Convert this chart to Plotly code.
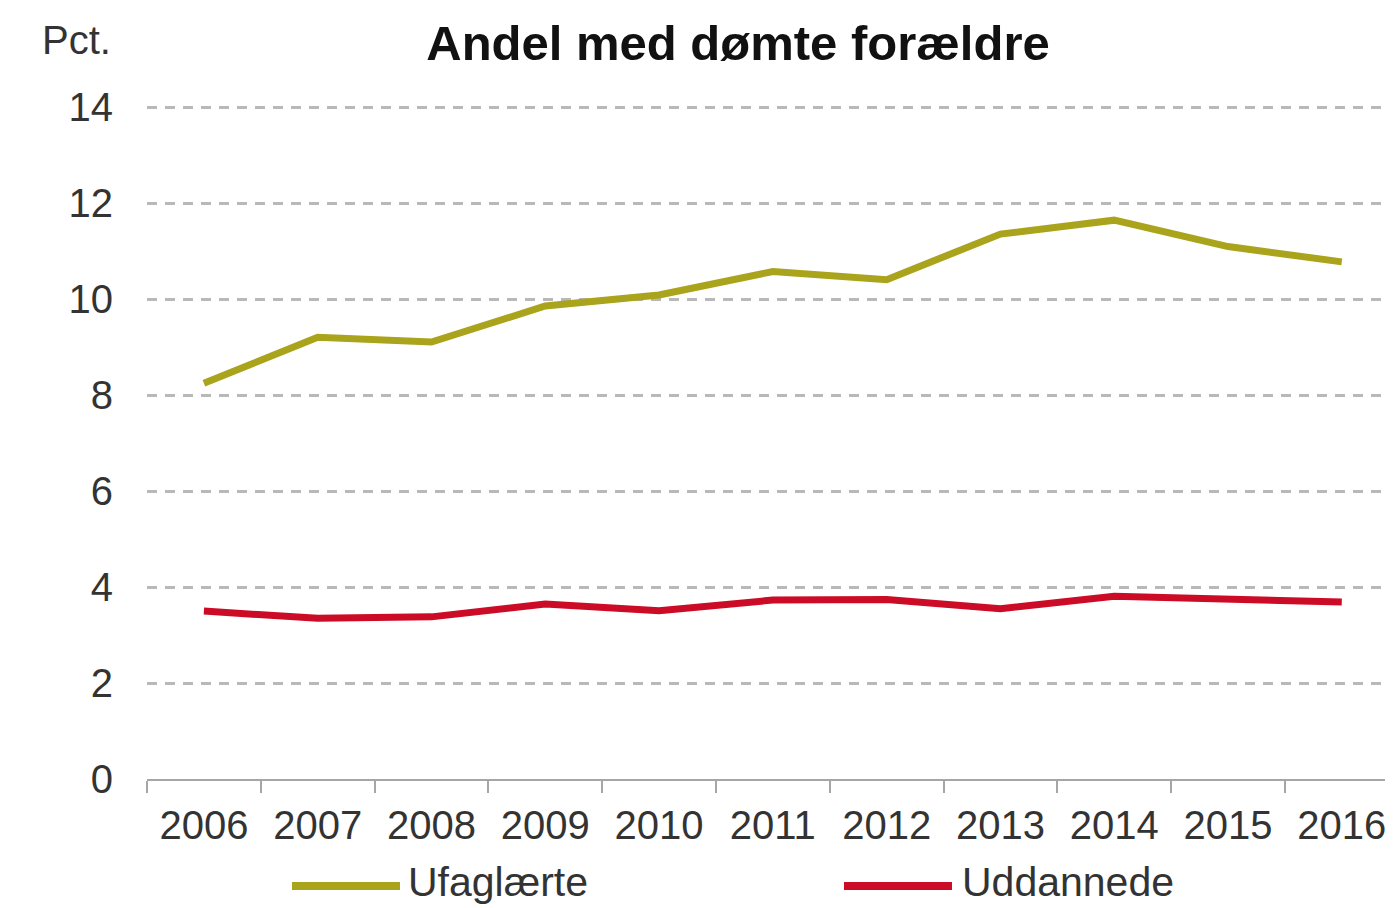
import plotly.graph_objects as go

years = ["2006", "2007", "2008", "2009", "2010", "2011", "2012", "2013", "2014", "2015", "2016"]
ufaglaerte = [8.25, 9.21, 9.11, 9.86, 10.09, 10.58, 10.41, 11.36, 11.65, 11.10, 10.78]
uddannede = [3.50, 3.35, 3.38, 3.65, 3.51, 3.73, 3.74, 3.55, 3.81, 3.74, 3.69]
y_ticks = [0, 2, 4, 6, 8, 10, 12, 14]

OLIVE = "#AAA31C"
RED = "#CC0C26"
FONT = "Liberation Sans, Arial, sans-serif"

OFF = 8  # browser body margin
PAGE_W, PAGE_H = 1393, 908
W, H = PAGE_W - OFF, PAGE_H - OFF

# target positions in page pixels
X_LEFT = 147          # plot left edge
Y_ZERO = 779          # y = 0
Y_TOP_VAL = 107       # y = 14
YMAX = 14.03
px_per_unit = (Y_ZERO - Y_TOP_VAL) / 14.0
plot_top = Y_ZERO - YMAX * px_per_unit

L = X_LEFT - OFF
T = plot_top - OFF
B = H - (Y_ZERO - OFF)
R = 0

fig = go.Figure()
fig.add_trace(go.Scatter(x=years, y=ufaglaerte, mode="lines", name="Ufaglærte",
                         line=dict(color=OLIVE, width=7), showlegend=False))
fig.add_trace(go.Scatter(x=years, y=uddannede, mode="lines", name="Uddannede",
                         line=dict(color=RED, width=7), showlegend=False))

fig.update_layout(
    width=W, height=H,
    margin=dict(l=L, r=R, t=T, b=B, pad=0),
    paper_bgcolor="white", plot_bgcolor="white",
    font=dict(family=FONT, color="#333333", size=40),
    title=dict(text="<b>Andel med dømte forældre</b>", x=(738 - OFF) / W, xanchor="center",
               y=1 - (43 - OFF) / H, yanchor="middle",
               font=dict(family=FONT, size=49, color="#111111")),
)
fig.update_xaxes(
    type="category", range=[-0.5, 10.45],
    showgrid=False, showline=True, linecolor="#A6A6A6", linewidth=2,
    ticks="outside", tickson="boundaries", ticklen=12, tickwidth=2, tickcolor="#A6A6A6",
    tickfont=dict(size=40, color="#333333"), ticklabelstandoff=10,
)
fig.update_yaxes(
    range=[0, YMAX], tickvals=y_ticks, showline=False, zeroline=False,
    showgrid=True, gridcolor="#B8B8B8", gridwidth=2.5, griddash="10px,8px",
    ticks="", tickfont=dict(size=40, color="#333333"), ticklabelstandoff=33,
)

pw = W - L - R
ph = H - T - B
def px_x(v):
    return (v - OFF - L) / pw
def px_y(v):
    return (H - B - (v - OFF)) / ph

# y-axis unit label
fig.add_annotation(text="Pct.", xref="paper", yref="paper", x=px_x(40), y=px_y(40),
                   xanchor="left", yanchor="middle", showarrow=False,
                   font=dict(size=40, color="#333333"))

# manual legend (long line keys)
legend_items = [("Ufaglærte", OLIVE, 292, 400, 406), ("Uddannede", RED, 844, 952, 960)]
for name, col, x0, x1, xt in legend_items:
    fig.add_shape(type="line", xref="paper", yref="paper", x0=px_x(x0), x1=px_x(x1),
                  y0=px_y(886), y1=px_y(886), line=dict(color=col, width=8))
    fig.add_annotation(text=name, xref="paper", yref="paper", x=px_x(xt), y=px_y(882),
                       xanchor="left", yanchor="middle", showarrow=False,
                       font=dict(size=41, color="#333333"))

fig.write_html("out.html")
